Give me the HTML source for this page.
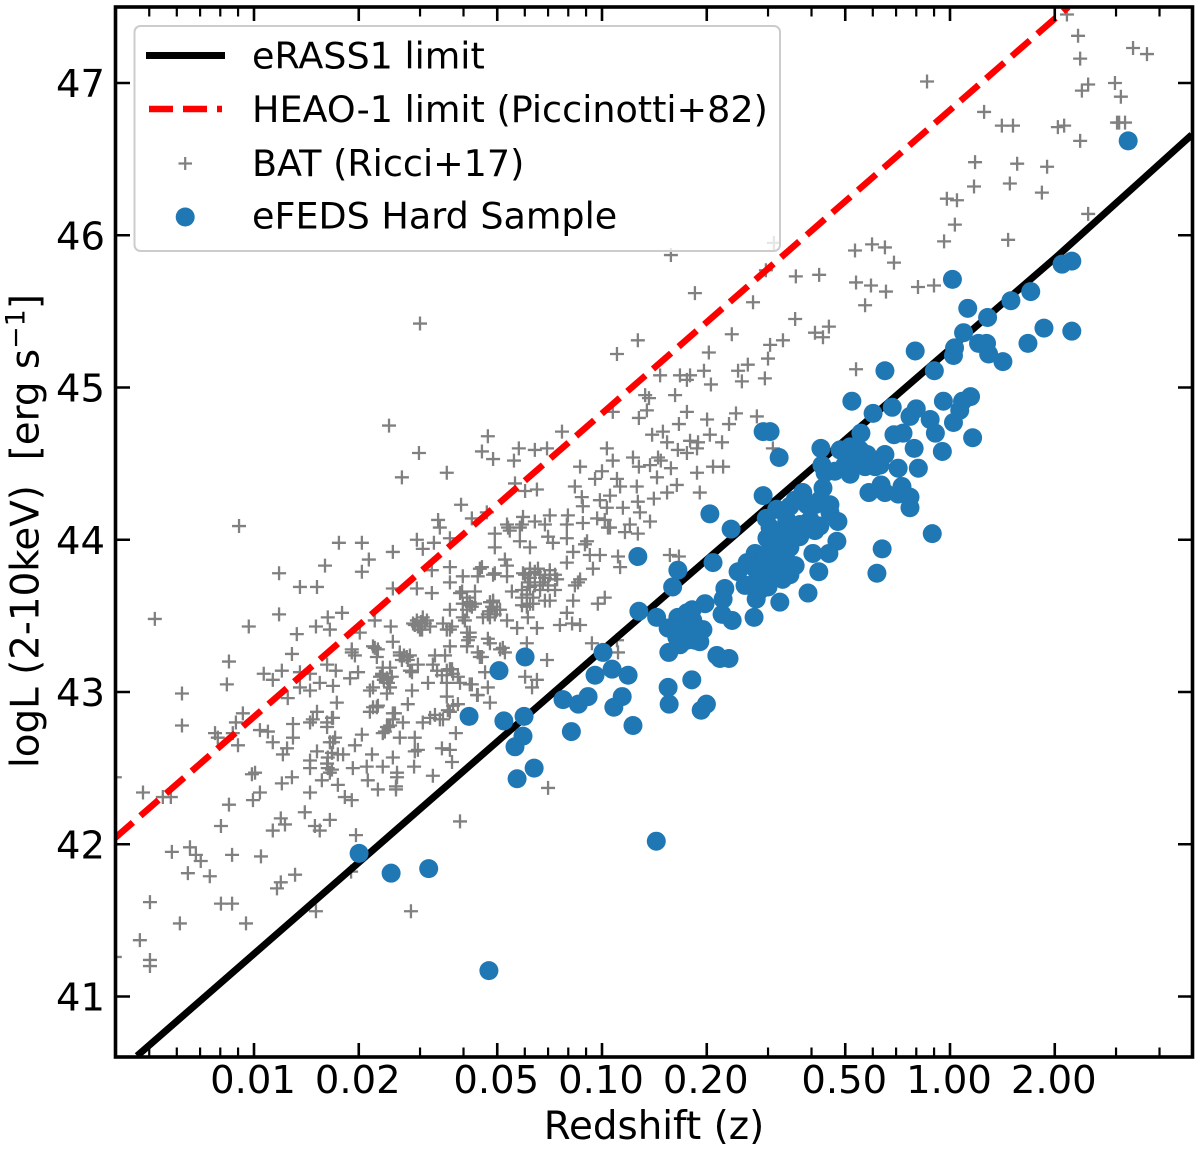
<!DOCTYPE html>
<html lang="en">
<head>
<meta charset="utf-8">
<title>eFEDS Hard Sample luminosity vs redshift</title>
<style>
html,body{margin:0;padding:0;background:#fff;width:1200px;height:1151px;overflow:hidden}
svg{display:block}
text{font-family:"DejaVu Sans","Liberation Sans",sans-serif;fill:#000}
</style>
</head>
<body>
<svg id="chart" xmlns="http://www.w3.org/2000/svg" width="1200" height="1151" viewBox="0 0 1200 1151">
  <defs><clipPath id="plot-clip"><rect x="115.5" y="7" width="1077" height="1050"/></clipPath></defs>
  <rect x="115.5" y="7" width="1077" height="1050" fill="#fff"/>
  <g id="bat-layer" clip-path="url(#plot-clip)"></g>
  <g id="line-layer" clip-path="url(#plot-clip)"></g>
  <g id="hard-layer" clip-path="url(#plot-clip)"></g>
  <g id="tick-layer"></g>
  <rect x="115.5" y="7" width="1077" height="1050" fill="none" stroke="#000" stroke-width="3.6"/>
  <g id="label-layer"></g>
  <text x="654" y="1139" font-size="38.8" text-anchor="middle">Redshift (z)</text>
  <text transform="translate(38.5,531) rotate(-90)" font-size="38.8" text-anchor="middle" xml:space="preserve">logL (2-10keV)  [erg s<tspan font-size="27" dy="-14">−1</tspan><tspan dy="14">]</tspan></text>
  <g>
    <rect x="134.5" y="26" width="645.5" height="225" rx="6" fill="#fff" fill-opacity="0.8" stroke="#ccc" stroke-width="2"/>
    <line x1="146" y1="55.5" x2="225" y2="55.5" stroke="#000" stroke-width="7"/>
    <text x="252" y="68.5" font-size="36.5">eRASS1 limit</text>
    <line x1="149" y1="109" x2="222" y2="109" stroke="#f00" stroke-width="6.5" stroke-dasharray="24 10"/>
    <text x="252" y="122" font-size="36.5">HEAO-1 limit (Piccinotti+82)</text>
    <path d="M178.5 163.5H192M185.2 157V170" stroke="#808080" stroke-width="2.2" fill="none"/>
    <text x="252" y="176" font-size="36.5">BAT (Ricci+17)</text>
    <circle cx="185.2" cy="217" r="9.5" fill="#1f77b4"/>
    <text x="252" y="228.5" font-size="36.5">eFEDS Hard Sample</text>
  </g>
</svg>
<script>
const xMajorTicks=[0.01,0.02,0.05,0.1,0.2,0.5,1,2];
const xMajorLabels=["0.01","0.02","0.05","0.10","0.20","0.50","1.00","2.00"];
const xMinorTicks=[0.005,0.006,0.007,0.008,0.009,0.03,0.04,0.06,0.07,0.08,0.09,0.3,0.4,0.6,0.7,0.8,0.9,3,4];
const yTicks=[41,42,43,44,45,46,47];
const erassLogZ=[-2.336,-0.997,0.307,0.695];
const erassLogL=[40.61,43.28,45.86,46.66];
const heaoLogZ=[-2.40,0.34];
const heaoLogL=[42.04,47.5];
const hardPoints=[[.512,46.62],[.35,45.83],[.322,45.81],[.35,45.37],[.27,45.39],[.224,45.29],[.232,45.63],[.175,45.57],[.108,45.46],[.051,45.52],[.039,45.36],[.105,45.29],[.082,45.29],[.111,45.22],[.152,45.17],[.013,45.26],[.01,45.21],[-.1,45.24],[-.045,45.11],[.007,45.71],[-.187,45.11],[-.282,44.91],[-.019,44.91],[.059,44.94],[.036,44.91],[-.221,44.83],[-.166,44.87],[-.115,44.81],[-.097,44.86],[-.057,44.79],[-.042,44.7],[.01,44.77],[.028,44.85],[.065,44.67],[-.161,44.69],[-.135,44.7],[-.103,44.6],[-.022,44.58],[-.091,44.47],[-.149,44.47],[-.256,44.7],[-.287,44.61],[-.371,44.6],[-.187,44.56],[-.238,44.56],[-.215,44.48],[-.244,44.48],[-.287,44.43],[-.368,44.49],[-.359,44.44],[-.331,44.45],[-.296,44.54],[-.233,44.31],[-.198,44.36],[-.187,44.31],[-.138,44.35],[-.115,44.28],[-.149,44.3],[-.115,44.21],[-.051,44.04],[-.195,43.94],[-.21,43.78],[-.537,44.29],[-.491,44.54],[-.537,44.71],[-.517,44.71],[-.365,44.34],[-.423,44.31],[-.374,44.26],[-.46,44.22],[-.498,44.2],[-.528,44.14],[-.411,44.23],[-.345,44.18],[-.322,44.12],[-.374,44.09],[-.432,44.02],[-.469,44.13],[-.526,44.01],[-.452,44.07],[-.489,44],[-.325,43.99],[-.348,43.91],[-.394,43.91],[-.377,43.79],[-.408,43.65],[-.56,43.91],[-.609,43.79],[-.583,43.85],[-.546,43.86],[-.509,43.93],[-.469,43.86],[-.46,43.77],[-.481,43.74],[-.523,43.69],[-.552,43.72],[-.557,43.61],[-.563,43.49],[-.489,43.59],[-.509,43.8],[-.537,43.78],[-.589,43.7],[-.629,44.07],[-.69,44.17],[-.681,43.85],[-.897,43.89],[-.782,43.8],[-.797,43.69],[-.894,43.53],[-.843,43.49],[-.647,43.68],[-.652,43.61],[-.704,43.58],[-.655,43.51],[-.626,43.47],[-.756,43.52],[-.782,43.49],[-.727,43.42],[-.768,43.42],[-.797,43.41],[-.756,43.34],[-.719,43.33],[-.785,43.36],[-.739,43.47],[-.808,43.26],[-.67,43.24],[-.661,43.22],[-.635,43.22],[-.742,43.08],[-.997,43.26],[-1.02,43.11],[-.971,43.15],[-.925,43.11],[-1.112,42.95],[-1.068,42.92],[-1.04,42.97],[-.942,42.97],[-.966,42.9],[-1.088,42.74],[-.911,42.78],[-.81,43.03],[-.807,42.92],[-.7,42.92],[-.715,42.88],[-1.221,43.23],[-1.296,43.14],[-1.282,42.81],[-1.224,42.84],[-1.227,42.71],[-1.25,42.64],[-1.195,42.5],[-1.244,42.43],[-1.382,42.84],[-1.698,41.94],[-1.606,41.81],[-1.498,41.84],[-1.325,41.17],[-.844,42.02],[-.445,44.26],[-.402,44.13],[-.431,44.1],[-.474,44.06],[-.517,44.08],[-.503,43.95],[-.46,43.95],[-.532,43.9],[-.56,43.81],[-.494,43.83],[-.445,43.83],[-.517,43.74],[-.474,43.79],[-.575,43.7],[-.546,43.67],[-.388,44.23],[-.345,44.23],[-.388,44.06],[-.81,43.42],[-.71,43.41],[-.733,43.34],[-.776,43.31],[-.741,43.54],[-.273,44.52],[-.316,44.59],[-.259,44.59],[-.201,44.49],[-.302,44.49]];
const batPoints=[[-1.612,44.75],[-1.328,44.68],[-1.345,44.58],[-1.313,44.53],[-1.526,44.57],[-1.575,44.41],[-1.446,44.44],[-1.405,44.23],[-1.374,44.14],[-1.331,44.18],[-2.043,44.09],[-1.756,43.98],[-1.69,43.98],[-1.796,43.83],[-1.67,43.87],[-1.69,43.79],[-1.601,43.92],[-1.532,44],[-1.515,43.94],[-1.483,43.98],[-1.471,44.13],[-1.466,44.08],[-1.437,44.01],[-1.928,43.78],[-1.868,43.69],[-1.819,43.69],[-1.928,43.51],[-2.015,43.43],[-2.285,43.48],[-1.788,43.49],[-1.747,43.52],[-1.822,43.43],[-1.782,43.41],[-1.877,43.38],[-1.891,43.25],[-2.072,43.2],[-2.078,43.05],[-2.207,42.99],[-2.207,42.78],[-1.972,43.12],[-1.92,43.14],[-1.946,43.08],[-1.868,43.13],[-1.839,43.12],[-1.79,43.18],[-1.765,43.14],[-1.724,43.09],[-1.701,43.13],[-1.719,43.26],[-1.71,43.24],[-1.653,43.47],[-1.607,43.43],[-1.696,43.39],[-1.601,43.33],[-1.653,43.29],[-1.581,43.24],[-1.561,43.23],[-1.647,43.23],[-1.632,43.11],[-1.604,43.1],[-1.546,43.13],[-1.529,43.18],[-1.486,43.18],[-1.437,43.15],[-1.5,43.06],[-1.446,43.06],[-1.414,43.1],[-1.38,43.05],[-1.357,42.98],[-1.328,43.03],[-1.322,42.93],[-1.336,43.13],[-1.543,43.45],[-1.503,43.47],[-1.517,43.41],[-1.457,43.45],[-1.437,43.41],[-1.394,43.47],[-1.38,43.39],[-1.437,43.3],[-1.385,43.34],[-1.351,43.23],[-1.328,43.35],[-1.279,43.26],[-1.38,43.59],[-1.313,43.6],[-1.322,43.49],[-1.293,43.54],[-1.437,43.54],[-1.437,43.72],[-1.437,43.82],[-1.489,43.8],[-1.489,43.65],[-1.532,43.68],[-1.601,43.68],[-1.4,43.76],[-1.351,43.81],[-1.357,43.76],[-1.313,43.77],[-1.273,43.76],[-1.308,44.04],[-1.308,43.95],[-1.273,44.1],[-1.279,43.87],[-1.402,43.66],[-1.365,43.66],[-1.762,42.93],[-1.773,43.04],[-1.839,43.01],[-1.811,43.06],[-1.868,43.03],[-1.903,42.96],[-1.667,43.01],[-1.618,42.99],[-1.546,43.01],[-1.667,42.87],[-1.647,42.9],[-1.558,42.92],[-1.601,42.86],[-1.572,42.8],[-1.609,42.78],[-1.63,42.73],[-1.581,42.7],[-1.538,42.7],[-1.515,42.8],[-1.48,42.85],[-1.457,42.82],[-1.443,42.88],[-1.414,42.92],[-1.446,42.97],[-1.42,42.73],[-1.46,42.63],[-1.437,42.62],[-1.431,42.54],[-1.538,42.61],[-1.54,42.51],[-1.601,42.57],[-1.661,42.59],[-1.676,42.51],[-1.63,42.51],[-1.589,42.47],[-1.592,42.38],[-1.673,42.42],[-1.716,42.5],[-1.71,42.65],[-1.69,42.72],[-1.79,42.77],[-1.773,42.83],[-1.831,42.82],[-1.819,42.87],[-1.888,42.79],[-1.888,42.7],[-1.96,42.74],[-1.983,42.75],[-1.946,42.67],[-1.905,42.63],[-1.917,42.59],[-1.819,42.61],[-1.839,42.55],[-1.839,42.5],[-1.782,42.67],[-1.767,42.7],[-1.776,42.6],[-1.744,42.59],[-1.79,42.53],[-1.782,42.47],[-2.006,42.46],[-1.92,42.4],[-1.891,42.44],[-1.805,42.42],[-1.759,42.39],[-1.983,42.34],[-1.839,42.34],[-1.739,42.31],[-2.032,42.86],[-2.052,42.8],[-2.112,42.73],[-2.104,42.7],[-2.061,42.73],[-2.046,42.65],[-2.319,42.34],[-2.262,42.31],[-2.239,42.31],[-2.4,42.44],[-2.236,41.95],[-2.184,41.98],[-2.167,41.93],[-2.19,41.81],[-2.127,41.79],[-2.153,41.89],[-2.095,42.12],[-2.072,42.26],[-2.063,41.93],[-1.997,42.47],[-2.003,42.29],[-1.98,41.92],[-1.923,42.17],[-1.946,42.09],[-1.911,42.13],[-1.854,42.21],[-1.825,42.12],[-1.811,42.09],[-1.782,42.16],[-1.719,42.29],[-1.644,42.36],[-1.592,42.36],[-1.707,42.06],[-1.882,41.8],[-1.923,41.75],[-1.934,41.71],[-2.063,41.61],[-2.095,41.61],[-2.023,41.48],[-2.213,41.48],[-2.299,41.62],[-2.328,41.37],[-2.299,41.24],[-2.299,41.2],[-2.4,41.26],[-1.822,41.56],[-1.721,41.82],[-1.549,41.56],[-1.408,42.15],[-1.155,42.37],[-1.486,42.45],[-.871,44.85],[-.756,44.84],[-.698,44.79],[-.615,44.83],[-.779,44.76],[-.635,44.76],[-.969,44.84],[-.856,44.69],[-.825,44.71],[-.813,44.64],[-.747,44.65],[-.724,44.64],[-.69,44.69],[-.655,44.64],[-.782,44.59],[-.756,44.57],[-.727,44.6],[-.839,44.54],[-1.115,44.71],[-1.239,44.6],[-1.193,44.59],[-1.158,44.6],[-1.253,44.52],[-.986,44.6],[-.969,44.52],[-.911,44.54],[-.894,44.48],[-.862,44.49],[-.831,44.52],[-.802,44.47],[-1.063,44.48],[-1,44.45],[-1.02,44.4],[-.957,44.4],[-.948,44.35],[-.9,44.35],[-.842,44.41],[-.727,44.44],[-.681,44.48],[-.652,44.48],[-.785,44.36],[-.813,44.31],[-.719,44.31],[-.851,44.27],[-.897,44.25],[-.94,44.21],[-.891,44.18],[-.986,44.21],[-.977,44.29],[-1.006,44.26],[-1.058,44.28],[-1.078,44.35],[-1.055,44.22],[-1.15,44.16],[-1.098,44.16],[-1.101,44.1],[-1.055,44.11],[-1.014,44.14],[-.992,44.13],[-.977,44.08],[-.92,44.1],[-.934,44.05],[-.862,44.12],[-.897,44.04],[-1.25,44.37],[-1.221,44.32],[-1.187,44.33],[-1.27,44.08],[-1.23,44.1],[-1.227,44.15],[-1.193,44.12],[-1.164,44.1],[-1.155,44.02],[-1.236,43.99],[-1.207,43.95],[-1.141,43.98],[-1.101,44.01],[-1.043,43.99],[-1.083,43.92],[-1.035,43.9],[-1.006,43.9],[-.954,43.89],[-.948,43.82],[-.805,43.9],[-.779,43.89],[-1.026,43.81],[-1.101,43.85],[-1.069,43.72],[-1.083,43.6],[-1.012,43.58],[-.992,43.62],[-1.101,43.52],[-1.121,43.44],[-1.086,43.45],[-1.063,43.44],[-1.187,43.42],[-1.244,43.42],[-1.273,43.47],[-1.213,43.49],[-1.273,43.83],[-1.345,43.82],[-1.308,43.78],[-1.227,43.78],[-1.207,43.78],[-1.184,43.81],[-1.15,43.8],[-1.129,43.74],[-1.17,43.72],[-1.207,43.69],[-1.23,43.62],[-1.259,43.66],[-1.15,43.6],[-1.198,43.58],[-1.216,43.56],[-1.322,43.59],[-1.408,43.65],[-1.302,43.54],[-1.342,43.49],[-1.4,43.49],[-1.431,43.43],[-1.322,43.32],[-1.388,43.3],[-1.285,43.29],[-1.216,43.32],[-1.158,43.21],[-1.029,43.32],[-.957,43.34],[-.954,43.26],[-1.221,43.1],[-1.187,43.08],[-1.201,43.03],[-1.374,43.05],[-1.408,43.06],[-1.359,42.98],[-1.431,43.15],[-.865,44.93],[-.555,44.81],[-.509,44.6],[.336,47.45],[.368,47.31],[.374,47.16],[.526,47.23],[.566,47.19],[.397,46.99],[.379,46.95],[.474,47],[.491,46.91],[.486,46.74],[.503,46.74],[.48,46.74],[.328,46.72],[.31,46.71],[.374,46.62],[-.066,47.01],[.098,46.81],[.149,46.72],[.181,46.72],[.072,46.48],[.193,46.47],[.279,46.45],[.069,46.32],[.172,46.34],[.264,46.28],[-.009,46.24],[.02,46.23],[.014,46.07],[-.017,45.96],[.167,45.97],[.397,46.14],[-.506,45.95],[-.273,45.9],[-.224,45.94],[-.187,45.92],[-.161,45.82],[-.529,45.77],[-.443,45.73],[-.376,45.74],[-.27,45.69],[-.227,45.67],[-.184,45.63],[-.092,45.66],[-.046,45.67],[-.244,45.54],[-.566,45.56],[-.445,45.45],[-.627,45.35],[-.388,45.36],[-.348,45.4],[-.365,45.33],[-.48,45.31],[-.517,45.28],[-.523,45.19],[-.693,45.23],[-.581,45.15],[-.609,45.11],[-.707,45.11],[-.598,45.04],[-.532,45.06],[-.687,45.02],[-.27,45.12],[-.802,45.87],[-.733,45.62],[-.897,45.31],[-.957,45.22],[-.833,45.08],[-.776,45.08],[-.747,45.08],[-.756,45.05],[-.79,44.95],[-.876,44.95],[-.894,44.8],[-1.523,45.42],[-1.532,43.47],[-1.52,43.46],[-1.509,43.45],[-1.494,43.43],[-1.529,43.43],[-1.515,43.49],[-1.581,43.26],[-1.569,43.24],[-1.558,43.21],[-1.575,43.21],[-1.552,43.24],[-1.638,43.1],[-1.627,43.08],[-1.618,43.09],[-1.632,43.12],[-1.552,43.14],[-1.474,43.14],[-1.446,43.14],[-1.428,43.12],[-1.46,43.11],[-1.446,43.41],[-1.388,43.39],[-1.38,43.36],[-1.4,43.58],[-1.38,43.57],[-1.388,43.54],[-1.313,43.59],[-1.322,43.53],[-1.428,42.91],[-1.437,42.87],[-1.466,42.82],[-1.494,42.83],[-1.601,42.82],[-1.615,42.77],[-1.658,42.9],[-1.644,42.91],[-1.658,43.03],[-1.609,43.03],[-1.615,43.06],[-1.719,43.28],[-1.658,43.3],[-1.644,43.28],[-1.63,43.16],[-1.609,43.16],[-1.538,43.44],[-1.523,43.41],[-1.293,43.28],[-1.357,43.26],[-1.345,43.23],[-1.48,43.24],[-1.451,43.24],[-1.221,43.77],[-1.207,43.75],[-1.193,43.79],[-1.178,43.77],[-1.164,43.75],[-1.15,43.77],[-1.207,43.81],[-1.213,43.72],[-1.193,43.7],[-1.178,43.67],[-1.155,43.7],[-1.135,43.67],[-1.23,43.67],[-1.216,43.64],[-1.198,43.62],[-1.23,43.57],[-1.164,43.6],[-1.135,43.77],[-1.207,43.58],[-1.388,43.62],[-1.365,43.58],[-1.374,43.56],[-1.316,43.56],[-1.328,43.51],[-1.308,43.51],[-1.078,43.7],[-1.063,43.74],[-1.049,43.97],[-1.265,44.06],[-1.236,44.08],[-.983,44.08],[-1.595,42.86],[-1.618,42.77],[-1.624,42.74],[-1.773,42.67],[-1.788,42.57],[-1.759,42.59],[-1.788,42.5],[-1.776,42.49],[-1.776,42.83],[-1.79,42.8],[-1.839,42.8],[-1.529,42.62],[-1.589,42.44]];

const NS='http://www.w3.org/2000/svg';
function xScaleLog(logZ){return 950+348*logZ;}
function xScale(z){return xScaleLog(Math.log10(z));}
function yScale(logL){return 83+(47-logL)*152.25;}
function make(tag,parent){const el=document.createElementNS(NS,tag);parent.appendChild(el);return el;}

const batLayer=document.getElementById('bat-layer');
batPoints.forEach(function(p){
  const el=make('path',batLayer);
  const cx=xScaleLog(p[0]),cy=yScale(p[1]);
  el.setAttribute('d','M'+(cx-7)+' '+cy+'H'+(cx+7)+'M'+cx+' '+(cy-7)+'V'+(cy+7));
  el.setAttribute('stroke','#808080');
  el.setAttribute('stroke-width','2.3');
  el.setAttribute('fill','none');
  
  
});

const lineLayer=document.getElementById('line-layer');
function pathFrom(zs,ls){return zs.map(function(z,i){return (i?'L':'M')+xScaleLog(z)+' '+yScale(ls[i]);}).join('');}
const erassLine=make('path',lineLayer);
erassLine.setAttribute('d',pathFrom(erassLogZ,erassLogL));
erassLine.setAttribute('stroke','#000');
erassLine.setAttribute('stroke-width','7');
erassLine.setAttribute('fill','none');


const heaoLine=make('path',lineLayer);
heaoLine.setAttribute('d',pathFrom(heaoLogZ,heaoLogL));
heaoLine.setAttribute('stroke','#f00');
heaoLine.setAttribute('stroke-width','6.5');
heaoLine.setAttribute('stroke-dasharray','24 10');
heaoLine.setAttribute('fill','none');



const hardLayer=document.getElementById('hard-layer');
hardPoints.forEach(function(p){
  const el=make('circle',hardLayer);
  el.setAttribute('cx',xScaleLog(p[0]));
  el.setAttribute('cy',yScale(p[1]));
  el.setAttribute('r','9.5');
  el.setAttribute('fill','#1f77b4');
  
  
});

const tickLayer=document.getElementById('tick-layer');
function xTick(z,len,w){
  const px=xScale(z);
  const t=make('path',tickLayer);
  t.setAttribute('d','M'+px+' 1057V'+(1057-len)+'M'+px+' 7V'+(7+len));
  t.setAttribute('stroke','#000');
  t.setAttribute('stroke-width',w);
  
  
}
xMajorTicks.forEach(function(z){xTick(z,14,2.6);});
xMinorTicks.forEach(function(z){xTick(z,9.5,2.2);});
yTicks.forEach(function(v){
  const py=yScale(v);
  const t=make('path',tickLayer);
  t.setAttribute('d','M115.5 '+py+'H130M1192.5 '+py+'H1178');
  t.setAttribute('stroke','#000');
  t.setAttribute('stroke-width','2.6');
  
  
});

const labelLayer=document.getElementById('label-layer');
xMajorTicks.forEach(function(z,i){
  const t=make('text',labelLayer);
  t.setAttribute('x',xScale(z)-1);
  t.setAttribute('y','1093');
  t.setAttribute('font-size','38.5');
  t.setAttribute('text-anchor','middle');
  
  
  t.textContent=xMajorLabels[i];
});
yTicks.forEach(function(v){
  const t=make('text',labelLayer);
  t.setAttribute('x','105');
  t.setAttribute('y',yScale(v)+14);
  t.setAttribute('font-size','38.5');
  t.setAttribute('text-anchor','end');
  
  
  t.textContent=String(v);
});
</script>
</body>
</html>
